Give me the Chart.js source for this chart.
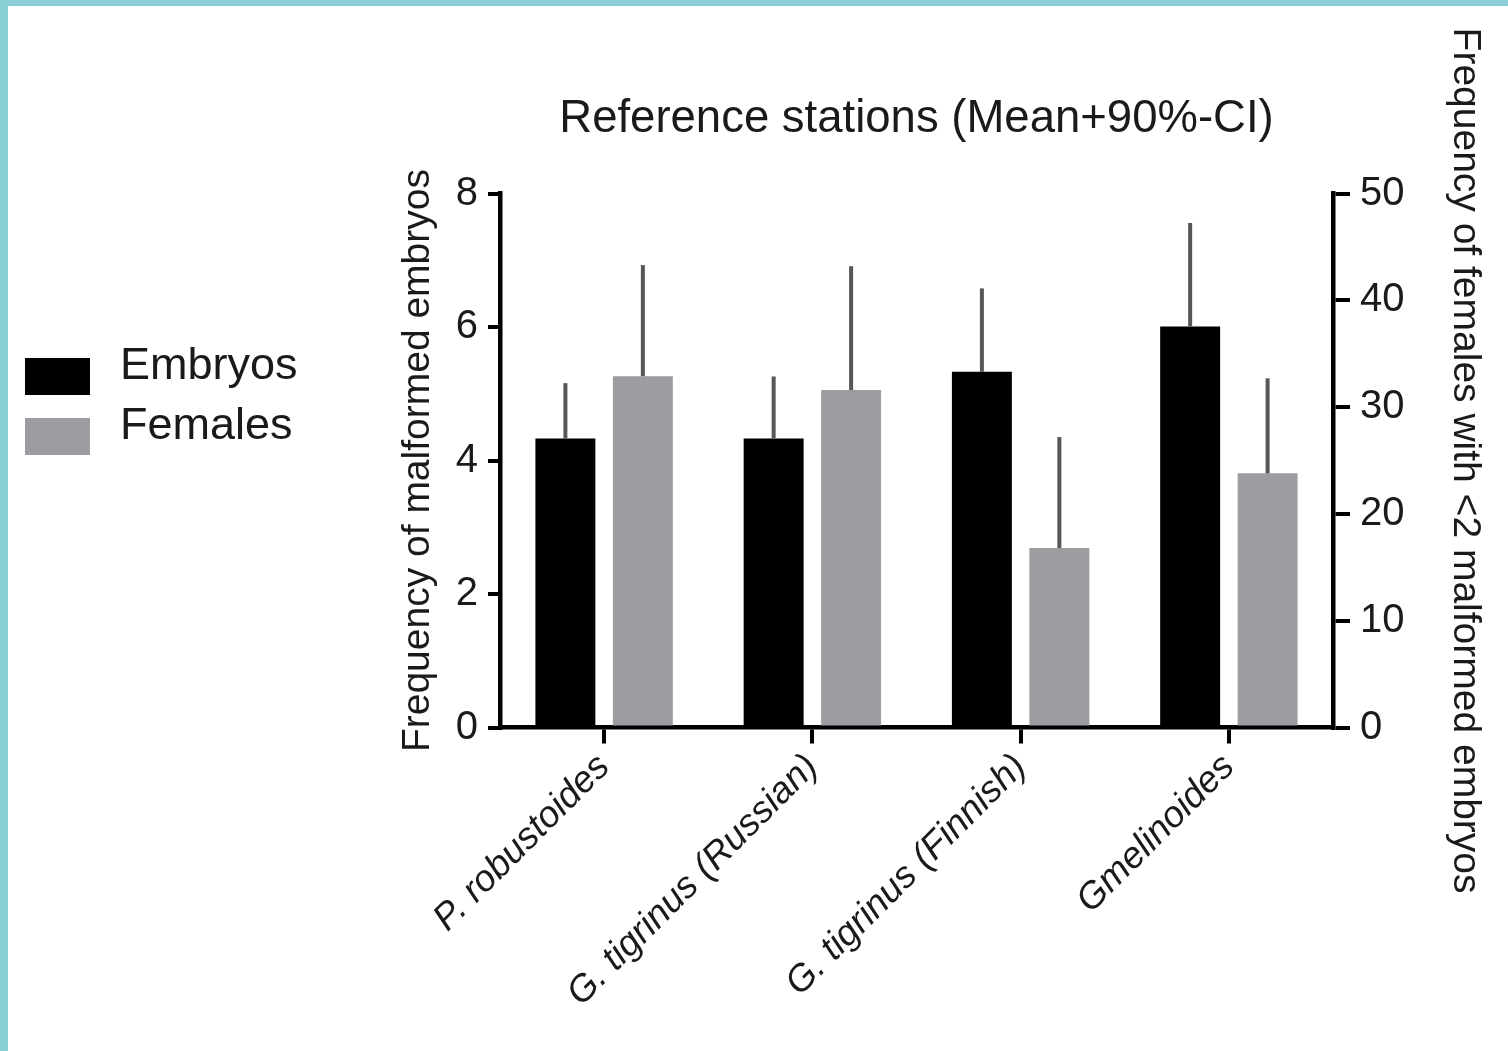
<!DOCTYPE html>
<html>
<head>
<meta charset="utf-8">
<script src="https://cdn.jsdelivr.net/npm/chart.js@4.4.1/dist/chart.umd.min.js"></script>
<style>
  body { margin: 0; background: #fff; }
  #frame {
    position: absolute; left: 0; top: 0; width: 1500px; height: 1045px;
    border-top: 6px solid #8acfd6; border-left: 8px solid #8acfd6; background: #fff;
  }
  #chart { position: absolute; left: 0; top: 0; }
  .legend {
    position: absolute; left: 25px; font-family: "Liberation Sans", Arial, sans-serif;
    font-size: 45px; color: #1a1a1a;
  }
  .legend div { position: absolute; left: 0; white-space: nowrap; }
  .legend span.box { display: inline-block; width: 65px; height: 37px; vertical-align: middle; }
  .legend span.txt { position: absolute; left: 95px; top: -9px; }
</style>
</head>
<body>
<div id="frame"></div>
<canvas id="chart" width="1508" height="1051"></canvas>
<div class="legend">
  <div style="top:347px"><span class="box" style="background:#000"></span><span class="txt">Embryos</span></div>
  <div style="top:407px"><span class="box" style="background:#9d9ca1"></span><span class="txt">Females</span></div>
</div>
<script>
// data
const categories = ['P. robustoides', 'G. tigrinus (Russian)', 'G. tigrinus (Finnish)', 'Gmelinoides'];
const embryosMean = [4.33, 4.33, 5.33, 6.01];
const embryosUpper = [5.16, 5.26, 6.58, 7.56];
const femalesMean = [32.9, 31.6, 16.8, 23.8];
const femalesUpper = [43.3, 43.2, 27.2, 32.7];
const leftTicks = [0, 2, 4, 6, 8];
const rightTicks = [0, 10, 20, 30, 40, 50];

const fontFamily = '"Liberation Sans", Arial, sans-serif';
const textColor = '#1a1a1a';

// upward-only error bars (mean to upper 90% CI)
const errorBars = {
    id: 'errorBars',
    afterDatasetsDraw(chart) {
        const ctx = chart.ctx;
        chart.data.datasets.forEach((ds, i) => {
            const meta = chart.getDatasetMeta(i);
            const scale = chart.scales[ds.yAxisID];
            meta.data.forEach((bar, j) => {
                const top = scale.getPixelForValue(ds.upper[j]);
                ctx.save();
                ctx.strokeStyle = '#575757';
                ctx.lineWidth = 4;
                ctx.beginPath();
                ctx.moveTo(bar.x, bar.y);
                ctx.lineTo(bar.x, top);
                ctx.stroke();
                ctx.restore();
            });
        });
    }
};

const ctx = document.getElementById('chart').getContext('2d');
new Chart(ctx, {
    type: 'bar',
    data: {
        labels: categories,
        datasets: [
            {
                label: 'Embryos',
                data: embryosMean,
                upper: embryosUpper,
                yAxisID: 'y',
                backgroundColor: '#000000',
                categoryPercentage: 0.744,
                barPercentage: 0.774,
            },
            {
                label: 'Females',
                data: femalesMean,
                upper: femalesUpper,
                yAxisID: 'y1',
                backgroundColor: '#9d9ca1',
                categoryPercentage: 0.744,
                barPercentage: 0.774,
            },
        ],
    },
    options: {
        responsive: false,
        animation: false,
        devicePixelRatio: 1,
        layout: { padding: { left: 380, right: 0, top: 0, bottom: 0 } },
        plugins: {
            legend: { display: false },
            tooltip: { enabled: false },
            title: {
                display: true,
                fullSize: false,
                text: 'Reference stations (Mean+90%-CI)',
                color: textColor,
                font: { family: fontFamily, size: 45.5, weight: 'normal' },
                padding: { top: 92, bottom: 47 },
            },
        },
        scales: {
            x: {
                offset: true,
                grid: { display: true, offset: false, drawOnChartArea: false, color: '#000', lineWidth: 4, tickLength: 16 },
                border: { display: true, color: '#000', width: 4.5 },
                ticks: {
                    color: textColor,
                    font: { family: fontFamily, size: 37, style: 'italic' },
                    minRotation: 45,
                    maxRotation: 45,
                    padding: 2,
                },
                afterFit: (scale) => { scale.height = 323.5; },
            },
            y: {
                position: 'left',
                min: 0,
                max: 8,
                afterBuildTicks: (scale) => { scale.ticks = leftTicks.map(v => ({ value: v })); },
                grid: { display: true, drawOnChartArea: false, color: '#000', lineWidth: 4, tickLength: 12 },
                border: { display: true, color: '#000', width: 4.5 },
                ticks: { color: textColor, font: { family: fontFamily, size: 40 }, padding: 10 },
                title: {
                    display: true,
                    text: 'Frequency of malformed embryos',
                    color: textColor,
                    font: { family: fontFamily, size: 39 },
                    padding: { top: 15, bottom: 0 },
                },
                afterFit: (scale) => { scale.width = 120; },
            },
            y1: {
                position: 'right',
                min: 0,
                max: 50,
                afterBuildTicks: (scale) => { scale.ticks = rightTicks.map(v => ({ value: v })); },
                grid: { display: true, drawOnChartArea: false, color: '#000', lineWidth: 4, tickLength: 17 },
                border: { display: true, color: '#000', width: 4.5 },
                ticks: { color: textColor, font: { family: fontFamily, size: 40 }, padding: 10 },
                title: {
                    display: true,
                    text: 'Frequency of females with <2 malformed embryos',
                    color: textColor,
                    font: { family: fontFamily, size: 39 },
                    padding: { top: 20, bottom: 0 },
                },
                afterFit: (scale) => { scale.width = 175; },
            },
        },
    },
    plugins: [errorBars],
});
</script>
</body>
</html>
